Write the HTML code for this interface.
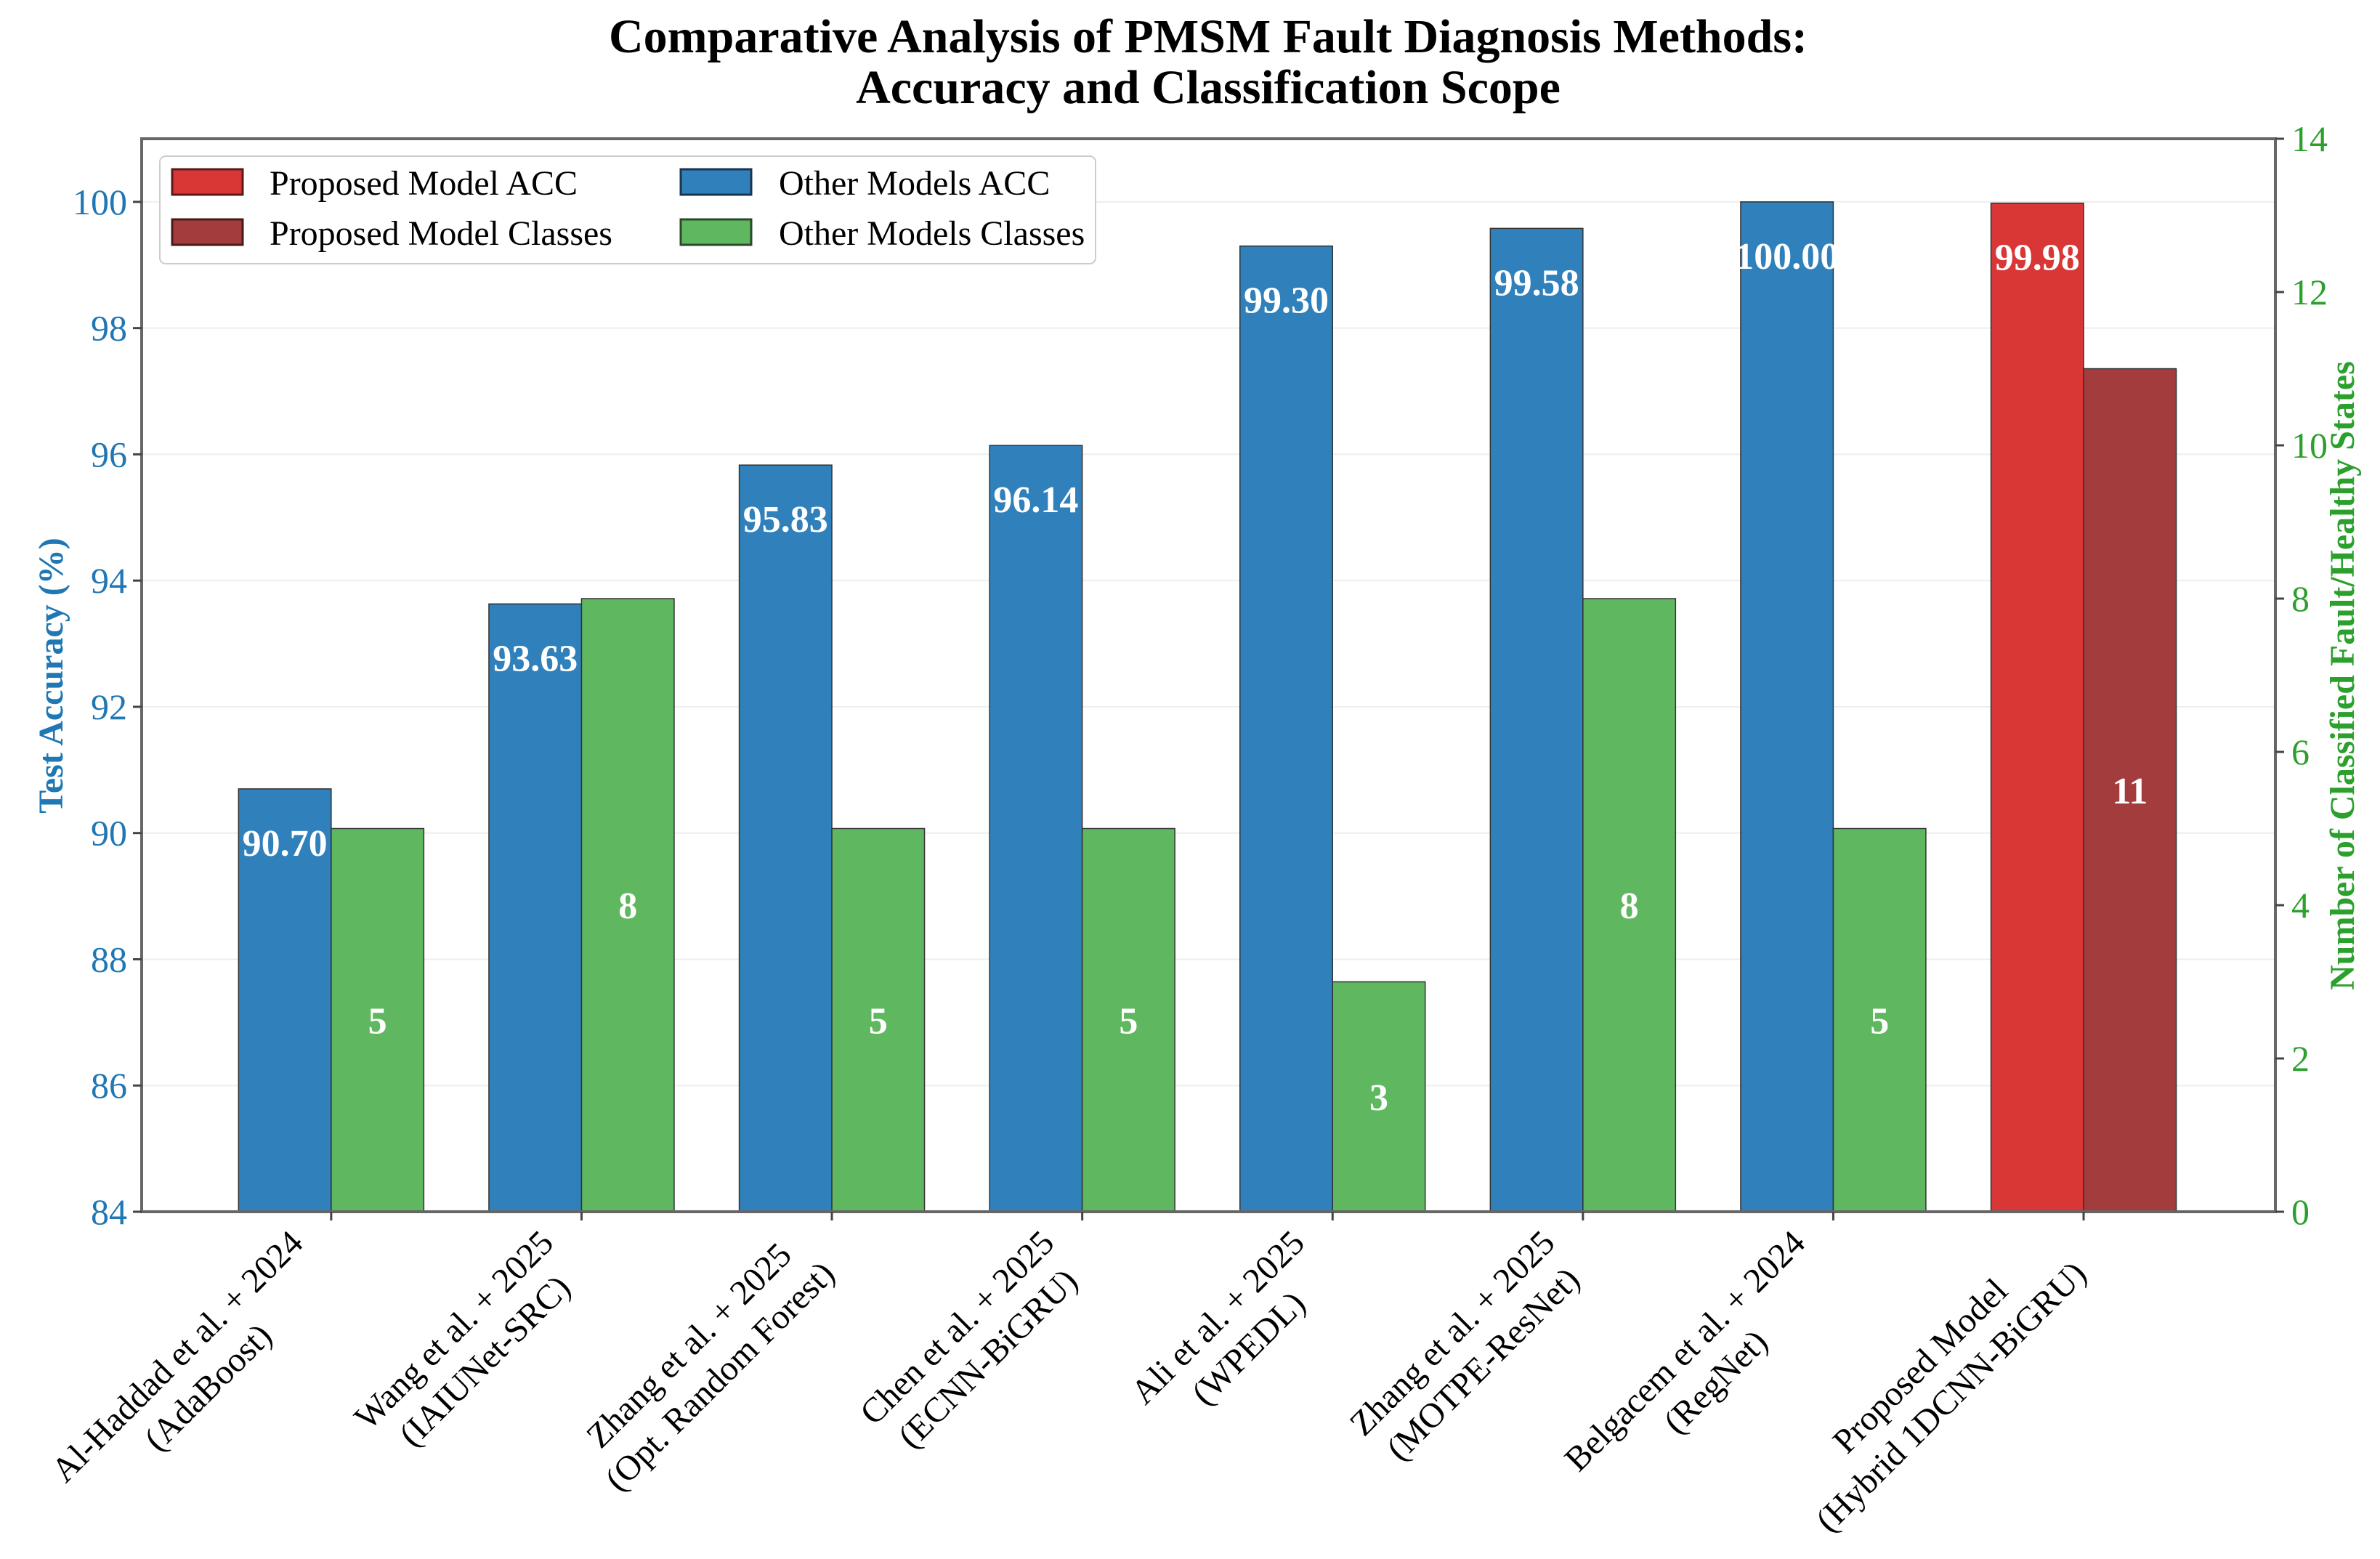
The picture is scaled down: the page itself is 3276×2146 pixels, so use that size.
<!DOCTYPE html>
<html><head><meta charset="utf-8"><style>
html,body{margin:0;padding:0;background:#fff;}
svg{display:block;font-family:"Liberation Serif",serif;}
</style></head><body>
<svg id="chart" width="3276" height="2146" viewBox="0 0 3276 2146" xmlns="http://www.w3.org/2000/svg">
<rect x="0" y="0" width="3276" height="2146" fill="#fff"/>
<text x="1663" y="72" text-anchor="middle" font-size="66" font-weight="bold">Comparative Analysis of PMSM Fault Diagnosis Methods:</text>
<text x="1663" y="142" text-anchor="middle" font-size="66" font-weight="bold">Accuracy and Classification Scope</text>
<g id="grid"></g>
<g id="bars"></g>
<g id="labels"></g>
<rect x="195" y="191" width="2937" height="1477" fill="none" stroke="#666" stroke-width="4"/>
<g id="axes"></g>
<text transform="translate(86,930) rotate(-90)" text-anchor="middle" font-size="48" font-weight="bold" fill="#1f77b4">Test Accuracy (%)</text>
<text transform="translate(3240,930) rotate(-90)" text-anchor="middle" font-size="48" font-weight="bold" fill="#2ca02c">Number of Classified Fault/Healthy States</text>
<g>
<rect x="220" y="215" width="1288" height="148" rx="8" fill="#fff" fill-opacity="0.9" stroke="#ccc" stroke-width="2"/>
<rect x="237" y="233" width="97" height="35" fill="#d93636" stroke="#5a1a1a" stroke-width="3"/>
<text x="371" y="268" font-size="48">Proposed Model ACC</text>
<rect x="237" y="302" width="97" height="35" fill="#a33d3d" stroke="#4a1a1a" stroke-width="3"/>
<text x="371" y="337" font-size="48">Proposed Model Classes</text>
<rect x="937" y="233" width="97" height="35" fill="#3080bb" stroke="#1a3550" stroke-width="3"/>
<text x="1072" y="268" font-size="48">Other Models ACC</text>
<rect x="937" y="302" width="97" height="35" fill="#5fb85f" stroke="#2a4a2a" stroke-width="3"/>
<text x="1072" y="337" font-size="48">Other Models Classes</text>
</g>
</svg>
<script>
const categories = [
  ["Al-Haddad et al. + 2024","(AdaBoost)"],
  ["Wang et al. + 2025","(IAIUNet-SRC)"],
  ["Zhang et al. + 2025","(Opt. Random Forest)"],
  ["Chen et al. + 2025","(ECNN-BiGRU)"],
  ["Ali et al. + 2025","(WPEDL)"],
  ["Zhang et al. + 2025","(MOTPE-ResNet)"],
  ["Belgacem et al. + 2024","(RegNet)"],
  ["Proposed Model","(Hybrid 1DCNN-BiGRU)"]
];
const accuracy = [90.70, 93.63, 95.83, 96.14, 99.30, 99.58, 100.00, 99.98];
const classes = [5, 8, 5, 5, 3, 8, 5, 11];
const isProposed = [false, false, false, false, false, false, false, true];
const leftTicks = [84, 86, 88, 90, 92, 94, 96, 98, 100];
const rightTicks = [0, 2, 4, 6, 8, 10, 12, 14];

const NS = "http://www.w3.org/2000/svg";
const X0 = 195, X1 = 3132, YB = 1668, YT = 191;
const xMin = -0.757, xMax = 7.766;
const accMin = 84, accMax = 101, clsMin = 0, clsMax = 14;
const barW = 0.37;
function xs(v){ return X0 + (v - xMin) / (xMax - xMin) * (X1 - X0); }
function ya(v){ return YB - (v - accMin) / (accMax - accMin) * (YB - YT); }
function yc(v){ return YB - (v - clsMin) / (clsMax - clsMin) * (YB - YT); }
function mk(tag, attrs, parent){ const e = document.createElementNS(NS, tag); for (const k in attrs) e.setAttribute(k, attrs[k]); parent.appendChild(e); return e; }

const grid = document.getElementById('grid');
const bars = document.getElementById('bars');
const labels = document.getElementById('labels');
const axes = document.getElementById('axes');

leftTicks.forEach(t => {
  const y = ya(t);
  const g = mk('line', {x1: X0, x2: X1, y1: y, y2: y, stroke: '#eee', 'stroke-width': 2}, grid);
  
  
  const tk = mk('line', {x1: X0 - 12, x2: X0, y1: y, y2: y, stroke: '#444', 'stroke-width': 3}, axes);
  
  
  const tl = mk('text', {x: X0 - 20, y: y + 17, 'text-anchor': 'end', 'font-size': 50, fill: '#1f77b4'}, axes);
  tl.textContent = t;
  
  
});
rightTicks.forEach(t => {
  const y = yc(t);
  const tk = mk('line', {x1: X1, x2: X1 + 12, y1: y, y2: y, stroke: '#444', 'stroke-width': 3}, axes);
  
  
  const tl = mk('text', {x: X1 + 22, y: y + 17, 'text-anchor': 'start', 'font-size': 50, fill: '#2ca02c'}, axes);
  tl.textContent = t;
  
  
});

categories.forEach((c, i) => {
  const xl = xs(i - barW), xc = xs(i), xr = xs(i + barW);
  const accFill = isProposed[i] ? '#d93636' : '#3080bb';
  const clsFill = isProposed[i] ? '#a33d3d' : '#5fb85f';
  const ay = ya(accuracy[i]);
  const b1 = mk('rect', {x: xl, y: ay, width: xc - xl, height: YB - ay, fill: accFill, stroke: '#333', 'stroke-width': 1.5}, bars);
  
  
  const cy = yc(classes[i]);
  const b2 = mk('rect', {x: xc, y: cy, width: xr - xc, height: YB - cy, fill: clsFill, stroke: '#333', 'stroke-width': 1.5}, bars);
  
  
  const t1 = mk('text', {x: (xl + xc) / 2, y: ay + 92, 'text-anchor': 'middle', 'font-size': 52, 'font-weight': 'bold', fill: '#fff'}, labels);
  t1.textContent = accuracy[i].toFixed(2);
  
  
  const t2 = mk('text', {x: (xc + xr) / 2, y: (cy + YB) / 2 + 18, 'text-anchor': 'middle', 'font-size': 52, 'font-weight': 'bold', fill: '#fff'}, labels);
  t2.textContent = classes[i];
  
  
  const tk = mk('line', {x1: xc, x2: xc, y1: YB, y2: YB + 12, stroke: '#444', 'stroke-width': 3}, axes);
  
  
  // rotated two-line label, aligned so rotated bbox right edge = tick, top = below axis
  const g = mk('g', {transform: 'translate(0,0) rotate(-45)'}, axes);
  
  
  const l1 = mk('text', {x: 0, y: 0, 'text-anchor': 'middle', 'font-size': 48}, g);
  l1.textContent = c[0];
  const l2 = mk('text', {x: 0, y: 0, 'text-anchor': 'middle', 'font-size': 48}, g);
  l2.textContent = c[1];
  const W = Math.max(l1.getComputedTextLength(), l2.getComputedTextLength());
  l1.setAttribute('x', -W / 2); l1.setAttribute('y', 36);
  l2.setAttribute('x', -W / 2); l2.setAttribute('y', 96);
  const r = g.getBoundingClientRect();
  const dx = (xc + 14) - r.right;
  const dy = (YB + 16) - r.top;
  g.setAttribute('transform', 'translate(' + dx + ',' + dy + ') rotate(-45)');
});
</script>
</body></html>
